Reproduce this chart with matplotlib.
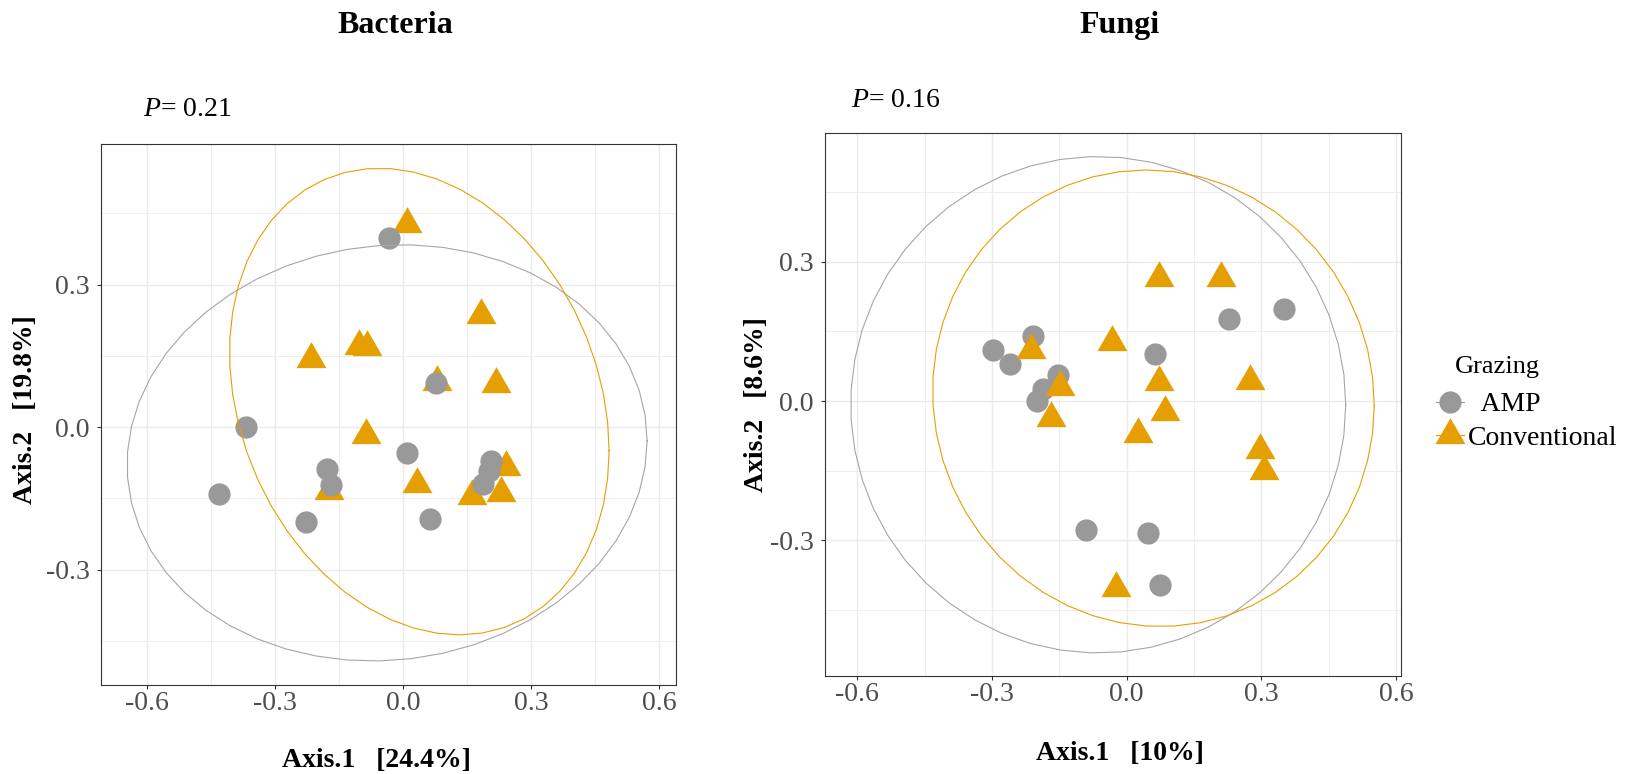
import numpy as np
import matplotlib
matplotlib.use('Agg')
import matplotlib.pyplot as plt
from matplotlib.lines import Line2D

# ---- ordination scores (Axis.1, Axis.2) per grazing group ----
bac_amp_x = [-0.033, 0.0765, -0.368, 0.009, -0.178, -0.170, -0.432, 0.205, 0.201, 0.186, -0.228, 0.063]
bac_amp_y = [0.399, 0.093, 0.0, -0.055, -0.088, -0.121, -0.140, -0.072, -0.093, -0.119, -0.199, -0.194]
bac_conv_x = [0.008, 0.182, -0.103, -0.084, -0.217, 0.078, 0.216, -0.088, 0.033, -0.173, 0.240, 0.160, 0.228]
bac_conv_y = [0.428, 0.236, 0.171, 0.169, 0.143, 0.096, 0.091, -0.016, -0.119, -0.134, -0.083, -0.144, -0.139]

fun_amp_x = [0.351, 0.227, -0.2095, -0.297, -0.260, 0.064, -0.152, -0.186, -0.199, -0.091, 0.0475, 0.074]
fun_amp_y = [0.198, 0.177, 0.140, 0.111, 0.079, 0.101, 0.056, 0.025, 0.0, -0.277, -0.284, -0.397]
fun_conv_x = [0.073, 0.210, -0.033, -0.214, 0.071, 0.275, -0.149, -0.169, 0.085, 0.0245, 0.297, 0.305, -0.024]
fun_conv_y = [0.265, 0.265, 0.128, 0.110, 0.042, 0.043, 0.030, -0.037, -0.023, -0.071, -0.106, -0.150, -0.403]

# 95% ellipses: centre (x, y) and shape matrix terms (sxx, syy, sxy)
bac_amp_ell = [-0.038, -0.054, 0.609**2, 0.438**2, 0.0153]
bac_conv_ell = [0.0375, 0.054, 0.4445**2, 0.491**2, -0.046]
fun_amp_ell = [-0.0635, -0.008, 0.5515**2, 0.535**2, 0.0]
fun_conv_ell = [0.0595, 0.006, 0.492**2, 0.492**2, -0.0076]

groups = ['AMP', 'Conventional']
p_values = ['0.21', '0.16']
titles = ['Bacteria', 'Fungi']
xlabels = ['Axis.1   [24.4%]', 'Axis.1   [10%]']
ylabels = ['Axis.2   [19.8%]', 'Axis.2   [8.6%]']
ticks = [-0.6, -0.3, 0.0, 0.3, 0.6]
tick_labels = ['-0.6', '-0.3', '0.0', '0.3', '0.6']
minor_ticks = [-0.45, -0.15, 0.15, 0.45]

c_amp = '#999999'
c_conv = '#E69F00'

plt.rcParams['font.family'] = ['Liberation Serif', 'DejaVu Serif']
plt.rcParams['mathtext.fontset'] = 'custom'
plt.rcParams['mathtext.it'] = 'Liberation Serif:italic'
plt.rcParams['mathtext.rm'] = 'Liberation Serif'

W, H = 1633, 774
fig = plt.figure(figsize=(W / 100, H / 100), dpi=100)

# equilateral triangle centred on its centroid
tri = [(0, 0.5774), (-0.5, -0.2887), (0.5, -0.2887)]


def fx(x):
    return x / W


def fy(y):
    return 1 - y / H


def ellipse_xy(e, n=52):
    cx, cy, sxx, syy, sxy = e
    L = np.linalg.cholesky(np.array([[sxx, sxy], [sxy, syy]]))
    t = np.linspace(0, 2 * np.pi, n)
    pts = L @ np.vstack([np.cos(t), np.sin(t)])
    return cx + pts[0], cy + pts[1]


def panel(box, xlim, ylim, amp, conv, ell_amp, ell_conv, amp_first):
    x0, y0, x1, y1 = box
    ax = fig.add_axes([fx(x0), fy(y1), (x1 - x0) / W, (y1 - y0) / H])
    ax.set_xlim(xlim)
    ax.set_ylim(ylim)
    ax.set_xticks(ticks)
    ax.set_xticklabels(tick_labels)
    ax.set_yticks(ticks[1:4])
    ax.set_yticklabels(tick_labels[1:4])
    ax.set_xticks(minor_ticks, minor=True)
    ax.set_yticks(minor_ticks, minor=True)
    ax.grid(True, which='major', color='#EBEBEB', lw=1.0, zorder=0)
    ax.grid(True, which='minor', color='#EBEBEB', lw=0.6, zorder=0)
    ax.set_axisbelow(True)
    ax.tick_params(which='major', length=3, width=0.8, color='#333333',
                   labelsize=20, labelcolor='#4D4D4D')
    ax.tick_params(axis='x', pad=1.5)
    ax.tick_params(axis='y', pad=5)
    ax.tick_params(which='minor', length=0)
    for s in ax.spines.values():
        s.set_color('#333333')
        s.set_linewidth(0.8)

    def pts_amp():
        ax.plot(amp[0], amp[1], ls='none', marker='o', ms=16, mew=0, color=c_amp, zorder=3)

    def pts_conv():
        ax.plot(conv[0], conv[1], ls='none', marker=tri, ms=24.9, mew=0, color=c_conv, zorder=3)

    if amp_first:
        pts_amp(); pts_conv()
    else:
        pts_conv(); pts_amp()

    ex, ey = ellipse_xy(ell_amp)
    ax.plot(ex, ey, color='#A6A6A6', lw=0.8, zorder=4)
    ex, ey = ellipse_xy(ell_conv)
    ax.plot(ex, ey, color=c_conv, lw=0.8, zorder=4)
    return ax


panel((101, 144, 675.7, 685), (-0.708, 0.638), (-0.5425, 0.596),
      (bac_amp_x, bac_amp_y), (bac_conv_x, bac_conv_y), bac_amp_ell, bac_conv_ell, False)
panel((825.1, 133.3, 1401.4, 675.7), (-0.672, 0.612), (-0.592, 0.577),
      (fun_amp_x, fun_amp_y), (fun_conv_x, fun_conv_y), fun_amp_ell, fun_conv_ell, True)

# titles, p-values, axis labels
fig.text(fx(395), fy(32.7), titles[0], ha='center', va='baseline', fontsize=23, fontweight='bold')
fig.text(fx(1119.7), fy(32.7), titles[1], ha='center', va='baseline', fontsize=23, fontweight='bold')
fig.text(fx(143), fy(116), r'$\mathit{P}$= ' + p_values[0], ha='left', va='baseline', fontsize=20)
fig.text(fx(851), fy(107.3), r'$\mathit{P}$= ' + p_values[1], ha='left', va='baseline', fontsize=20)
fig.text(fx(376.7), fy(767), xlabels[0], ha='center', va='baseline', fontsize=20, fontweight='bold')
fig.text(fx(1119.5), fy(760), xlabels[1], ha='center', va='baseline', fontsize=20, fontweight='bold')
fig.text(fx(26), fy(410), ylabels[0], ha='center', va='center', rotation=90, fontsize=20, fontweight='bold')
fig.text(fx(756.5), fy(405), ylabels[1], ha='center', va='center', rotation=90, fontsize=20, fontweight='bold')

# legend
fig.text(fx(1455), fy(373), 'Grazing', ha='left', va='baseline', fontsize=19)
handles = [
    Line2D([], [], color=c_amp, lw=0.8, marker='o', ms=16, mew=0),
    Line2D([], [], color=c_conv, lw=0.8, marker=tri, ms=24.9, mew=0),
]
fig.legend(handles, ['  ' + groups[0], groups[1]], loc='upper left',
           bbox_to_anchor=(fx(1436), fy(392)), frameon=False, fontsize=20,
           handlelength=1.0, handletextpad=0.15, labelspacing=0.28,
           borderpad=0, borderaxespad=0)

fig.savefig('out.png', dpi=100)
